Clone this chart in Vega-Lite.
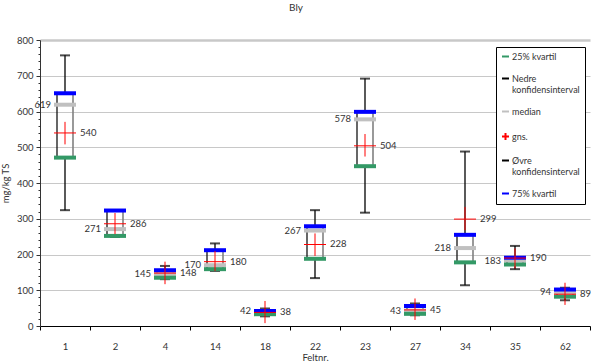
{
  "$schema": "https://vega.github.io/schema/vega-lite/v6.json",
  "width": 550,
  "height": 286,
  "autosize": {"type": "none"},
  "padding": {"left": 40, "top": 40, "right": 1, "bottom": 37},
  "title": {"text": "Bly", "anchor": "middle", "frame": "group", "dx": -19, "offset": 22, "fontSize": 10, "font": "Lato", "fontWeight": "normal", "color": "#333"},
  "config": {
    "view": {"stroke": null},
    "axis": {"labelFont": "Lato", "titleFont": "Lato", "labelFontSize": 9.5, "titleFontSize": 9.5, "titleFontWeight": "normal", "labelColor": "#333", "titleColor": "#333"},
    "legend": {"orient": "none", "legendX": 456, "legendY": 7, "title": null, "strokeColor": "#000", "fillColor": "white",
      "padding": 5, "rowPadding": 12, "labelFont": "Lato", "labelFontSize": 9, "labelColor": "#333", "labelLimit": 200,
      "symbolType": "stroke", "symbolSize": 49, "symbolStrokeWidth": 2, "symbolOpacity": 1, "labelOffset": 2}
  },
  "data": {"values": [
    {"f": "1", "lo": 324, "q1": 471, "med": 619, "mean": 540, "hi": 757, "q3": 651, "mlo": 508, "mhi": 571},
    {"f": "2", "lo": 249, "q1": 252, "med": 271, "mean": 286, "hi": 322, "q3": 323, "mlo": 257, "mhi": 316},
    {"f": "4", "lo": 131, "q1": 135, "med": 145, "mean": 148, "hi": 168, "q3": 156, "mlo": 117, "mhi": 180},
    {"f": "14", "lo": 154, "q1": 159, "med": 170, "mean": 180, "hi": 231, "q3": 212, "mlo": 154, "mhi": 210},
    {"f": "18", "lo": 27, "q1": 33, "med": 42, "mean": 38, "hi": 49, "q3": 42, "mlo": 8, "mhi": 70},
    {"f": "22", "lo": 134, "q1": 188, "med": 267, "mean": 228, "hi": 324, "q3": 279, "mlo": 196, "mhi": 259},
    {"f": "23", "lo": 317, "q1": 447, "med": 578, "mean": 504, "hi": 692, "q3": 599, "mlo": 474, "mhi": 537},
    {"f": "27", "lo": 30, "q1": 34, "med": 43, "mean": 45, "hi": 63, "q3": 56, "mlo": 17, "mhi": 77},
    {"f": "34", "lo": 114, "q1": 178, "med": 218, "mean": 299, "hi": 488, "q3": 255, "mlo": 268, "mhi": 333},
    {"f": "35", "lo": 159, "q1": 172, "med": 183, "mean": 190, "hi": 224, "q3": 191, "mlo": 161, "mhi": 217},
    {"f": "62", "lo": 72, "q1": 82, "med": 94, "mean": 89, "hi": 107, "q3": 102, "mlo": 59, "mhi": 121}
  ]},
  "layer": [
    {
      "mark": {"type": "rule", "opacity": 0},
      "encoding": {"y": {"field": "lo", "type": "quantitative", "scale": {"domain": [0, 800], "nice": false},
        "axis": {"values": [0,100,200,300,400,500,600,700,800], "title": "mg/kg TS", "grid": true, "gridColor": "#c8c8c8",
          "gridWidth": {"condition": {"test": "datum.value == 800", "value": 2.5}, "value": 1.2},
          "domainColor": "#333", "tickColor": "#333", "tickSize": 4, "labelPadding": 3, "titlePadding": 6}}}
    },
    {
      "mark": {"type": "rule", "opacity": 0},
      "encoding": {"y": {"field": "lo", "type": "quantitative",
        "axis": {"orient": "left", "values": [20,40,60,80,120,140,160,180,220,240,260,280,320,340,360,380,420,440,460,480,520,540,560,580,620,640,660,680,720,740,760,780],
          "labels": false, "grid": false, "domain": false, "tickSize": 2, "tickColor": "#333", "title": null}}}
    },
    {
      "encoding": {
        "x": {"field": "f", "type": "ordinal", "title": "Feltnr.",
          "scale": {"domain": ["1","2","4","14","18","22","23","27","34","35","62"], "paddingInner": 0, "paddingOuter": 0},
          "axis": {"tickBand": "extent", "labelAngle": 0, "tickSize": 4, "labelPadding": 11, "domainColor": "#000", "tickColor": "#000", "grid": false, "titlePadding": 2}}
      },
      "layer": [
        {"transform": [{"fold": ["q1", "lo", "med", "mean", "hi", "q3"]}],
         "mark": {"type": "point", "opacity": 0, "filled": false},
         "encoding": {"y": {"field": "value", "type": "quantitative", "axis": null},
           "color": {"field": "key", "type": "nominal", "title": null,
             "scale": {"domain": ["q1","lo","med","mean","hi","q3"], "range": ["#339966","#000000","#c0c0c0","#ff0000","#000000","#0000ff"]},
             "legend": {"labelExpr": "datum.label == 'q1' ? '25% kvartil' : datum.label == 'lo' ? ['Nedre', 'konfidensinterval'] : datum.label == 'med' ? 'median' : datum.label == 'mean' ? 'gns.' : datum.label == 'hi' ? ['Øvre', 'konfidensinterval'] : '75% kvartil'"}},
           "shape": {"field": "key", "type": "nominal", "title": null,
             "scale": {"domain": ["q1","lo","med","mean","hi","q3"], "range": ["stroke","stroke","stroke","M-1,0H1M0,-1V1","stroke","stroke"]},
             "legend": {"labelExpr": "datum.label == 'q1' ? '25% kvartil' : datum.label == 'lo' ? ['Nedre', 'konfidensinterval'] : datum.label == 'med' ? 'median' : datum.label == 'mean' ? 'gns.' : datum.label == 'hi' ? ['Øvre', 'konfidensinterval'] : '75% kvartil'"}}}},
        {"mark": {"type": "rule", "color": "#000", "strokeWidth": 1.3},
         "encoding": {"y": {"field": "lo", "type": "quantitative", "axis": null}, "y2": {"field": "q1"}}},
        {"mark": {"type": "rule", "color": "#000", "strokeWidth": 1.3},
         "encoding": {"y": {"field": "q3", "type": "quantitative", "axis": null}, "y2": {"field": "hi"}}},
        {"mark": {"type": "rule", "color": "#000", "strokeWidth": 1.2, "xOffset": -8},
         "encoding": {"y": {"field": "q1", "type": "quantitative", "axis": null}, "y2": {"field": "q3"}}},
        {"mark": {"type": "rule", "color": "#808080", "strokeWidth": 1.6, "xOffset": 8},
         "encoding": {"y": {"field": "q1", "type": "quantitative", "axis": null}, "y2": {"field": "q3"}}},
        {"mark": {"type": "tick", "size": 10, "thickness": 2, "color": "#000"},
         "encoding": {"y": {"field": "lo", "type": "quantitative", "axis": null}}},
        {"mark": {"type": "tick", "size": 10, "thickness": 2, "color": "#000"},
         "encoding": {"y": {"field": "hi", "type": "quantitative", "axis": null}}},
        {"mark": {"type": "tick", "size": 22, "thickness": 4, "color": "#c0c0c0", "opacity": 1},
         "encoding": {"y": {"field": "med", "type": "quantitative", "axis": null}}},
        {"mark": {"type": "tick", "size": 22, "thickness": 4, "color": "#339966", "opacity": 1},
         "encoding": {"y": {"field": "q1", "type": "quantitative", "axis": null}}},
        {"mark": {"type": "tick", "size": 22, "thickness": 4, "color": "#0000ff", "opacity": 1},
         "encoding": {"y": {"field": "q3", "type": "quantitative", "axis": null}}},
        {"mark": {"type": "rule", "color": "#ff0000", "strokeWidth": 1},
         "encoding": {"y": {"field": "mlo", "type": "quantitative", "axis": null}, "y2": {"field": "mhi"}}},
        {"mark": {"type": "tick", "size": 22, "thickness": 1, "color": "#ff0000", "opacity": 1},
         "encoding": {"y": {"field": "mean", "type": "quantitative", "axis": null}}},
        {"mark": {"type": "text", "align": "right", "baseline": "middle", "dx": -14, "font": "Lato", "fontSize": 9.5, "color": "#333"},
         "encoding": {"y": {"field": "med", "type": "quantitative", "axis": null}, "text": {"field": "med"}}},
        {"mark": {"type": "text", "align": "left", "baseline": "middle", "dx": 15, "font": "Lato", "fontSize": 9.5, "color": "#333"},
         "encoding": {"y": {"field": "mean", "type": "quantitative", "axis": null}, "text": {"field": "mean"}}}
      ]
    }
  ],
  "resolve": {"axis": {"y": "independent"}}
}
